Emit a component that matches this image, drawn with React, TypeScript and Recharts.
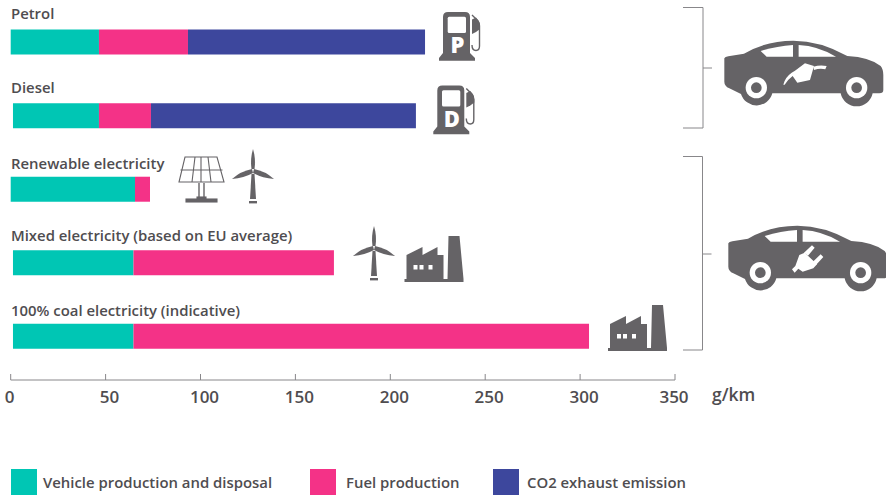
import React from 'react';
import { BarChart, Bar, XAxis, YAxis } from 'recharts';

const categories = [
  'Petrol',
  'Diesel',
  'Renewable electricity',
  'Mixed electricity (based on EU average)',
  '100% coal electricity (indicative)',
];
// small gap some bars have before the first segment in the original graphic
const barStart = [0, 1.2, 0, 1.2, 1.2];
const vehicleProduction = [46.5, 45.3, 65.5, 63.5, 63.5];
const fuelProduction = [46.9, 27.4, 7.9, 105.6, 240];
const exhaustEmission = [124.9, 139.6, 0, 0, 0];
const xTicks = [0, 50, 100, 150, 200, 250, 300, 350];

const seriesNames = ['Vehicle production and disposal', 'Fuel production', 'CO2 exhaust emission'];
const seriesColors = ['#00c6b4', '#f43287', '#3d479d'];
const swatchLeft = [11, 310, 493];
const labelLeft = [43, 346, 527];
// the labels do not sit at one fixed distance above their bars
const labelLift = [23.2, 23.2, 20.2, 21.8, 20.2];

const data = categories.map((name, i) => ({
  name,
  start: barStart[i],
  vehicle: vehicleProduction[i],
  fuel: fuelProduction[i],
  exhaust: exhaustEmission[i],
}));

const FONT = '"Open Sans", sans-serif';
const TEXT = '#4f4d50';
const ICON = '#656366';
const RULE = '#88878a';

function CategoryTick({ y, payload, index }: any) {
  return (
    <text x={11} y={y - labelLift[index]} fontFamily={FONT} fontSize={14.9} fontWeight={600} fill={TEXT}>
      {payload.value}
    </text>
  );
}

function ValueTick({ x, y, payload }: any) {
  const shift = payload.value === 0 || payload.value === 350 ? -1 : 4;
  return (
    <g>
      <line x1={x} x2={x} y1={y - 6} y2={y} stroke={RULE} />
      <text x={x + shift} y={y + 23} textAnchor="middle" fontFamily={FONT} fontSize={17} fontWeight={600} fill={TEXT}>
        {payload.value}
      </text>
    </g>
  );
}

function LegendRow() {
  return (
    <div style={{ position: 'absolute', left: 0, top: 469, width: 886, height: 26 }}>
      {seriesNames.map((name, i) => (
        <React.Fragment key={name}>
          <div style={{ position: 'absolute', left: swatchLeft[i], top: 0, width: 26, height: 26, background: seriesColors[i] }} />
          <span style={{ position: 'absolute', left: labelLeft[i], top: 2, fontFamily: FONT, fontSize: 14.9, lineHeight: '22px', fontWeight: 600, color: TEXT, whiteSpace: 'nowrap' }}>
            {name}
          </span>
        </React.Fragment>
      ))}
    </div>
  );
}

function Pump({ letter, x, y }: { letter: string; x: number; y: number }) {
  return (
    <g transform={`translate(${x},${y})`}>
      <path d="M4 41V5Q4 0 9 0H26Q31 0 31 5V41L36 46V48.7H0V46L4 41Z" fill={ICON} />
      <rect x={8.7} y={4.7} width={18.3} height={16.3} rx={1.5} fill="#fff" />
      <path d="M33 3L39 9Q40.5 11 40.5 14V34Q40.5 38.5 37 38.5Q33 38.5 33 33" fill="none" stroke={ICON} strokeWidth={1.4} />
      <path d="M33 7.5L37 5.5Q41 10 41 14V17L37 20L33 22Z" fill={ICON} />
      <text x={18.5} y={41} textAnchor="middle" fontFamily={FONT} fontSize={22} fontWeight={800} fill="#fff">
        {letter}
      </text>
    </g>
  );
}

function Turbine({ x, y }: { x: number; y: number }) {
  return (
    <g transform={`translate(${x},${y})`} fill={ICON}>
      <path d="M0 -22Q-3 -12 -1.5 -2H1.5Q3 -12 0 -22Z" />
      <path d="M-1 -2Q-12 0 -21 8Q-9 7 0 2Z" />
      <path d="M1 -2Q12 0 21 8Q9 7 0 2Z" />
      <path d="M-1.5 3L-3 28H3L1.5 3Z" />
      <rect x={-4} y={30} width={8} height={2.4} />
    </g>
  );
}

function Factory({ x, y }: { x: number; y: number }) {
  return (
    <g transform={`translate(${x},${y})`}>
      <path d="M0 46V43H2V19L18 11V19L33 11V19H39V43H43L44 0H55L59 43V46Z" fill={ICON} />
      <rect x={9} y={29} width={4} height={4.5} fill="#fff" />
      <rect x={15} y={29} width={4} height={4.5} fill="#fff" />
      <rect x={24} y={29} width={4} height={4.5} fill="#fff" />
    </g>
  );
}

function Solar({ x, y }: { x: number; y: number }) {
  return (
    <g transform={`translate(${x},${y})`} fill="none" stroke={ICON} strokeWidth={1.1}>
      <path d="M6 0H38L45 25H0Z" />
      <path d="M1.5 13H43.5M16 0L13 25M22 0V25M29 0L32 25" />
      <path d="M20 26V42M25 26V42" strokeWidth={1.4} />
      <rect x={7} y={42} width={31} height={3} fill={ICON} />
      <rect x={18} y={40} width={9} height={2} fill={ICON} />
    </g>
  );
}

function Car({ x, y, children }: { x: number; y: number; children: React.ReactNode }) {
  return (
    <g transform={`translate(${x},${y}) scale(0.3333)`}>
      <path
        d="M163 175Q165 170 175 169L222 161Q290 122 370 122Q450 122 532 168Q600 172 632 198Q640 208 640 225V270Q640 280 628 280H608A49 49 0 0 1 512 280H307A49 49 0 0 1 213 282L178 265Q163 258 163 245Z"
        fill={ICON}
      />
      <path d="M272 153Q320 138 369 135V170H290Z" fill="#fff" />
      <path d="M386 135Q445 138 498 170H386Z" fill="#fff" />
      {[259, 560].map((cx) => (
        <g key={cx}>
          <circle cx={cx} cy={263} r={32} fill="#fff" />
          <circle cx={cx} cy={263} r={16} fill={ICON} />
        </g>
      ))}
      {children}
    </g>
  );
}

function Bracket({ top, mid, bottom, right }: { top: number; mid: number; bottom: number; right: number }) {
  return (
    <path
      d={`M683 ${top}H${right}V${bottom}H683M${right} ${mid}H${right + 9}`}
      fill="none"
      stroke={RULE}
      strokeWidth={1}
    />
  );
}

function Decorations() {
  return (
    <svg width={886} height={495} style={{ position: 'absolute', left: 0, top: 0, pointerEvents: 'none' }}>
      <Pump letter="P" x={439} y={12} />
      <Pump letter="D" x={433.3} y={85.5} />
      <Solar x={179} y={157} />
      <Turbine x={253} y={171} />
      <Turbine x={374} y={248} />
      <Factory x={404.5} y={236} />
      <Factory x={608} y={305} />
      <Bracket top={7.5} mid={68} bottom={128} right={703} />
      <Bracket top={156.5} mid={254} bottom={350} right={702.5} />
      <Car x={670} y={0}>
        <path d="M340 254Q345 232 365 218L375 212L405 190L432 198L420 240L382 248L368 228Q352 240 344 254Z" fill="#fff" />
        <path d="M430 200Q450 194 470 198L466 208Q450 204 432 210Z" fill="#fff" />
      </Car>
      <Car x={674} y={185}>
        <path d="M366 255L376 245L388 212L404 205L441 240L430 252L398 262L385 253L374 265Z" fill="#fff" transform="translate(-12,-2)" />
        <path d="M402 205L426 183L434 190L414 214ZM428 233L452 210L460 218L438 242Z" fill="#fff" transform="translate(-12,-2)" />
      </Car>
      <text x={712} y={401} fontFamily={FONT} fontSize={17.5} fontWeight={600} fill={TEXT}>
        g/km
      </text>
    </svg>
  );
}

export default function App() {
  return (
    <div style={{ position: 'absolute', left: 0, top: 0, width: 886, height: 495, background: '#fff', overflow: 'hidden' }}>
      <BarChart
        width={886}
        height={495}
        layout="vertical"
        data={data}
        barSize={25}
        margin={{ top: 5.6, right: 211, bottom: 114, left: 9.7 }}
      >
        <XAxis
          type="number"
          domain={[0, 350]}
          ticks={xTicks}
          interval={0}
          tickSize={0}
          tickMargin={0}
          tickLine={false}
          height={1}
          axisLine={{ stroke: RULE, strokeWidth: 1 }}
          tick={<ValueTick />}
        />
        <YAxis
          type="category"
          dataKey="name"
          width={1}
          padding={{ top: 0, bottom: 6.6 }}
          axisLine={false}
          tickLine={false}
          interval={0}
          tick={<CategoryTick />}
        />
        <Bar dataKey="start" stackId="a" fill="transparent" isAnimationActive={false} />
        <Bar dataKey="vehicle" stackId="a" name={seriesNames[0]} fill={seriesColors[0]} isAnimationActive={false} />
        <Bar dataKey="fuel" stackId="a" name={seriesNames[1]} fill={seriesColors[1]} isAnimationActive={false} />
        <Bar dataKey="exhaust" stackId="a" name={seriesNames[2]} fill={seriesColors[2]} isAnimationActive={false} />
      </BarChart>
      <LegendRow />
      <Decorations />
    </div>
  );
}
